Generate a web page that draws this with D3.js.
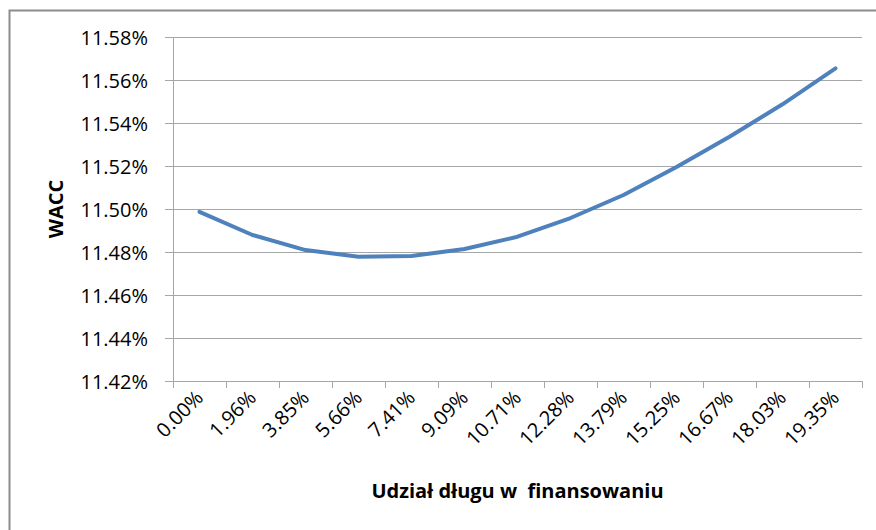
<!DOCTYPE html>
<html>
<head>
<meta charset="utf-8">
<script src="https://cdn.jsdelivr.net/npm/d3@7"></script>
<style>
  body { margin: 0; background: #fff; }
  text { font-family: "Open Sans", "Liberation Sans", sans-serif; fill: #000; }
</style>
</head>
<body>
<div id="chart"></div>
<script>
// categories: debt share in financing
var debtShare = ["0.00%", "1.96%", "3.85%", "5.66%", "7.41%", "9.09%", "10.71%",
                 "12.28%", "13.79%", "15.25%", "16.67%", "18.03%", "19.35%"];
// WACC values (percent)
var wacc = [11.4987, 11.4879, 11.4809, 11.4778, 11.4781, 11.4814, 11.4871,
            11.4958, 11.5065, 11.5195, 11.5336, 11.5487, 11.5654];
// y tick labels
var yTicks = [11.42, 11.44, 11.46, 11.48, 11.50, 11.52, 11.54, 11.56, 11.58];

var W = 876, H = 530;
var margin = {top: 37, right: 14, bottom: 149, left: 173},
    width = W - margin.left - margin.right,
    height = H - margin.top - margin.bottom;

var svg = d3.select("#chart").append("svg")
    .attr("width", W)
    .attr("height", H);

// chart border
svg.append("rect")
    .attr("x", 9.5).attr("y", 10.5)
    .attr("width", W + 20).attr("height", H + 20)
    .style("fill", "none")
    .style("stroke", "#8c8c8c")
    .style("stroke-width", 2);

var g = svg.append("g")
    .attr("transform", "translate(" + margin.left + "," + margin.top + ")");

var x = d3.scaleBand()
    .domain(debtShare)
    .range([0, width]);

var y = d3.scaleLinear()
    .domain([11.42, 11.58])
    .range([height, 0]);

// gridlines
g.selectAll(".grid")
    .data(yTicks)
  .enter().append("line")
    .attr("class", "grid")
    .attr("x1", 0).attr("x2", width)
    .attr("y1", function(d) { return Math.round(y(d)) + 0.5; })
    .attr("y2", function(d) { return Math.round(y(d)) + 0.5; })
    .style("stroke", "#a6a6a6");

// y axis
var yAxis = g.append("g")
    .call(d3.axisLeft(y)
      .tickValues(yTicks)
      .tickSize(8)
      .tickPadding(17)
      .tickFormat(function(d) { return d.toFixed(2) + "%"; }));
yAxis.selectAll("line").style("stroke", "#a6a6a6");
yAxis.select(".domain").style("stroke", "#a6a6a6").attr("d", "M0.5,0V" + height);
yAxis.selectAll("text")
    .style("font-size", "20px")
    .style("font-family", "'Open Sans', sans-serif")
    .attr("dy", "0.36em");

// x axis
var xAxis = g.append("g")
    .attr("transform", "translate(0," + height + ")")
    .call(d3.axisBottom(x).tickSize(0).tickPadding(0));
xAxis.select(".domain").style("stroke", "#a6a6a6");

// tick marks between categories
g.selectAll(".xtick")
    .data(d3.range(debtShare.length + 1))
  .enter().append("line")
    .attr("class", "xtick")
    .attr("x1", function(i) { return Math.round(i * x.step()) + 0.5; })
    .attr("x2", function(i) { return Math.round(i * x.step()) + 0.5; })
    .attr("y1", height).attr("y2", height + 7)
    .style("stroke", "#a6a6a6");

xAxis.selectAll("text")
    .style("font-size", "20px")
    .style("font-family", "'Open Sans', sans-serif")
    .style("text-anchor", "end")
    .attr("dy", null)
    .attr("transform", "translate(5,18) rotate(-45)")
    .attr("y", 0).attr("x", 0);

// line
var line = d3.line()
    .x(function(d, i) { return x(debtShare[i]) + x.bandwidth() / 2; })
    .y(function(d) { return y(d); });

g.append("path")
    .datum(wacc)
    .attr("d", line)
    .style("fill", "none")
    .style("stroke", "#4f81bd")
    .style("stroke-width", 4)
    .style("stroke-linecap", "round")
    .style("stroke-linejoin", "round");

// axis titles
svg.append("text")
    .attr("transform", "translate(63," + (margin.top + height / 2) + ") rotate(-90)")
    .attr("text-anchor", "middle")
    .style("font-weight", "bold")
    .style("font-size", "20px")
    .text("WACC");

svg.append("text")
    .attr("x", margin.left + width / 2)
    .attr("y", 498)
    .attr("text-anchor", "middle")
    .style("font-weight", "bold")
    .style("font-size", "20px")
    .style("white-space", "pre")
    .text("Udział długu w  finansowaniu");
</script>
</body>
</html>
